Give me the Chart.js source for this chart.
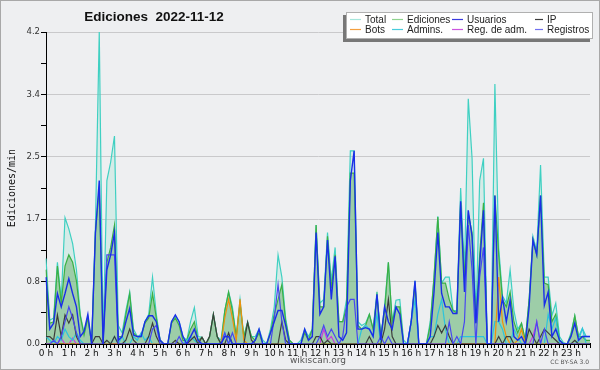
<!DOCTYPE html>
<html>
<head>
<meta charset="utf-8">
<script src="https://cdn.jsdelivr.net/npm/chart.js@4.4.1/dist/chart.umd.min.js"></script>
<style>
  html, body { margin: 0; padding: 0; background: #eeeff1; }
  #wrap { width: 600px; height: 370px; position: relative; }
</style>
</head>
<body>
<div id="wrap"><canvas id="chart" width="600" height="370"></canvas></div>
<script>
// hour tick labels, one slot every 10 minutes
const hourLabels = ['0 h','1 h','2 h','3 h','4 h','5 h','6 h','7 h','8 h','9 h','10 h','11 h',
  '12 h','13 h','14 h','15 h','16 h','17 h','18 h','19 h','20 h','21 h','22 h','23 h'];
const slots = [];
hourLabels.forEach((h, k) => {
  for (let m = 0; m < 60; m += 10) slots.push(k + ':' + String(m).padStart(2, '0'));
});

// edits per minute, 10-minute buckets
const total = [
  1.15,0.32,0.35,1.1,0.6,1.7,1.55,1.35,1.0,0.4,0.15,0.37,
  0,1.6,4.2,0.05,2.2,2.45,2.8,0.25,0.15,0.45,0.7,0.2,
  0.1,0.12,0.3,0.4,0.9,0.4,0.05,0,0,0.3,0.38,0.3,
  0.1,0.05,0.3,0.49,0.1,0.09,0,0.1,0.4,0.1,0.05,0.45,
  0.7,0.5,0.1,0.6,0.1,0.3,0.1,0.1,0.2,0.05,0,0.2,
  0.5,1.2,0.9,0.35,0.05,0,0,0.05,0.2,0.1,0.2,1.6,
  0.55,0.6,1.5,0.85,1.3,0.3,0.3,0.6,2.6,2.6,0.3,0.25,
  0.28,0.4,0.2,0.7,0.1,0.5,1.1,0.3,0.59,0.6,0.05,0,
  0.3,0.85,0,0,0,0.3,0.9,1.72,0.82,0.9,0.9,0.45,
  0.45,2.1,1.0,3.3,2.5,0.3,2.2,2.5,0,0,3.5,1.3,
  0.65,0.55,1.0,0.45,0.2,0.28,0.05,0.6,1.45,1.25,2.41,0.9,
  0.9,0.38,0.55,0.1,0.02,0,0.15,0.38,0.1,0.21,0.1,0.1
];
const ediciones = [
  1.0,0.28,0.3,1.05,0.55,1.05,1.2,1.1,0.85,0.38,0.12,0.35,
  0,1.5,2.1,0.05,1.1,1.3,1.6,0.1,0.1,0.4,0.68,0.15,
  0.1,0.1,0.28,0.35,0.68,0.35,0.05,0,0,0.28,0.35,0.25,
  0.05,0.05,0.2,0.3,0.05,0.09,0,0.1,0.4,0.1,0,0.45,
  0.7,0.45,0.1,0.55,0.1,0.29,0.1,0.05,0.15,0,0,0.15,
  0.4,0.6,0.8,0.3,0.05,0,0,0,0.15,0.05,0.2,1.6,
  0.5,0.5,1.45,0.75,1.2,0.3,0.3,0.5,2.3,2.3,0.25,0.2,
  0.25,0.4,0.2,0.65,0.1,0.45,1.1,0.3,0.5,0.5,0,0,
  0.3,0.8,0,0,0,0.25,0.9,1.71,0.82,0.82,0.6,0.45,
  0.42,1.9,0.9,1.75,1.5,0.28,1.2,1.9,0,0,2.0,1.2,
  0.6,0.5,0.7,0.3,0.15,0.28,0.05,0.6,1.4,1.2,2.0,0.82,
  0.8,0.3,0.4,0.05,0,0,0.12,0.38,0.1,0.1,0.05,0.05
];
const usuarios = [
  0.9,0.2,0.28,0.68,0.5,0.68,0.88,0.68,0.5,0.1,0.17,0.4,
  0,1.5,2.2,0,1.0,1.2,1.5,0.05,0.1,0.3,0.48,0.12,
  0.1,0.1,0.3,0.38,0.38,0.3,0.05,0,0,0.3,0.39,0.3,
  0.1,0,0.1,0.2,0.05,0,0,0,0,0,0,0.1,
  0.1,0,0,0,0,0,0,0.05,0.2,0,0,0.15,
  0.3,0.45,0.45,0.25,0,0,0,0,0.2,0.05,0.1,1.5,
  0.4,0.5,1.4,0.6,1.18,0.1,0.05,0.15,2.2,2.6,0.2,0.2,
  0.22,0.2,0.1,0.67,0.05,0.5,0.3,0.2,0.5,0.4,0,0,
  0.3,0.85,0,0,0,0.1,0.7,1.5,0.68,0.5,0.5,0.41,
  0.41,1.92,0.7,1.8,1.45,0.28,1.06,1.8,0,0,2.0,0.3,
  0.62,0.3,0.59,0.1,0.05,0.1,0,0.5,1.4,1.2,2.0,0.52,
  0.7,0.1,0.2,0.05,0,0,0.1,0.28,0.05,0.1,0.1,0.1
];
const ip = [
  0.1,0.1,0.05,0.39,0.1,0.39,0.28,0.39,0.1,0,0,0,
  0,0.1,0.1,0,0.05,0,0.1,0,0,0.05,0.2,0.05,
  0,0,0,0.1,0.28,0.1,0,0,0,0,0.05,0,
  0,0,0.05,0.1,0,0.09,0,0.1,0.4,0.1,0,0,
  0.15,0,0,0,0,0.29,0.05,0,0,0,0,0,
  0,0,0.3,0.05,0,0,0,0,0,0,0,0.1,
  0.1,0,0.05,0,0,0,0,0,0,0,0,0,
  0,0.1,0,0,0,0.2,0.6,0.1,0,0,0,0,
  0,0,0,0,0,0,0.1,0.25,0.15,0.25,0.1,0,
  0,0,0,0,0,0,0,0,0,0,0,0.1,
  0,0.1,0.1,0,0,0,0,0.2,0.1,0,0.1,0.2,
  0.15,0.1,0.05,0,0,0,0,0.05,0,0,0,0
];
const bots = [
  0,0,0,0,0,0,0,0,0,0,0,0,
  0,0,0,0,0,0,0,0,0,0,0,0,
  0,0,0,0,0,0,0,0,0,0,0,0,
  0,0,0,0,0,0,0,0,0,0,0,0.35,
  0.6,0.35,0.05,0.6,0.05,0,0,0,0,0,0,0,
  0,0,0,0,0,0,0,0,0,0,0,0,
  0,0,0,0,0,0,0,0,0,0,0,0,
  0,0,0,0,0,0,0,0,0,0,0,0,
  0,0,0,0,0,0,0,0,0,0,0,0,
  0,0,0,0,0,0,0,0,0,0,0,0.9,
  0.3,0.1,0,0,0.05,0.2,0,0,0,0,0,0,
  0,0,0,0,0,0,0,0,0,0,0,0
];
const admins = [
  0.1,0.05,0,0.1,0.05,0.2,0.1,0.05,0.15,0.05,0,0,
  0,0,0,0,0,0,0.1,0,0.1,0,0,0.1,
  0.05,0.15,0.05,0.1,0,0,0,0,0,0,0,0,
  0,0.05,0.1,0.05,0,0,0,0,0,0,0,0.15,
  0,0,0,0,0,0,0,0,0,0,0,0,
  0,0,0,0,0,0,0,0,0,0,0,0,
  0,0,0,0,0,0,0,0,0,0,0,0.2,
  0.25,0.2,0.1,0.4,0,0,0,0,0,0,0,0,
  0.3,0.6,0,0,0,0.1,0.1,0.4,0.6,0.2,0,0,
  0,0.1,0.1,0.1,0.1,0.1,0.1,0.1,0,0,0.3,0.3,
  0.2,0,0,0.2,0.1,0,0,0,0,0,0,0,
  0.4,0.2,0.35,0,0,0,0,0,0.05,0.21,0,0
];
const regAdm = [
  0,0,0,0,0.08,0,0,0.08,0,0,0,0,
  0,0,0,0,0,0,0,0,0,0,0,0,
  0,0,0,0,0,0,0,0,0,0,0,0,
  0,0,0,0,0,0,0,0,0,0,0,0,
  0,0,0,0,0,0,0,0,0,0,0,0,
  0,0,0,0,0,0,0,0,0,0,0,0,
  0,0.2,0.05,0.1,0,0,0,0,0,0,0,0,
  0,0,0,0,0,0,0,0,0,0,0,0,
  0,0,0,0,0,0,0,0,0,0,0,0,
  0,0,0,0,0,0,0,0,0,0,0,0,
  0,0,0,0,0,0,0,0,0.1,0.3,0,0,
  0,0,0,0,0,0,0,0,0,0,0,0
];
const registros = [
  0,0,0.05,0,0.1,0.3,0.5,0.35,0.15,0,0,0,
  0,0,0,0,1.2,1.2,1.2,0,0,0,0,0,
  0,0,0,0,0.2,0.25,0,0,0,0,0,0.1,
  0,0,0,0,0,0,0,0,0,0,0,0.15,
  0,0.15,0,0,0,0,0,0,0,0,0,0,
  0.35,0.8,0.3,0,0,0,0,0,0,0,0,0,
  0.1,0.25,0.1,0.2,0.1,0,0.1,0.5,0.6,0.6,0,0,
  0,0,0,0,0.1,0,0.1,0,0,0,0,0,
  0,0,0,0,0,0,0,0,0,0,0.3,0,
  0.1,0,0.3,1.6,1.0,0,0.9,1.3,0,0,0,0,
  0,0,0,0,0,0,0,0,0,0.3,0,0.2,
  0,0,0,0,0,0,0,0,0,0,0,0
];

const yMax = 4.2;
const yStep = 0.42;

function line(label, data, color, order, extra) {
  return Object.assign({
    label: label, data: data, borderColor: color, backgroundColor: color,
    borderWidth: 1.2, pointRadius: 0, tension: 0, fill: false, order: order
  }, extra || {});
}

const datasets = [
  line('Total', total, '#3fd0c2', 10, { fill: 'origin', backgroundColor: 'rgba(150,225,205,0.28)', legendColor: '#a6e6dc' }),
  line('Ediciones', ediciones, '#3cb043', 9, { fill: 'origin', backgroundColor: 'rgba(80,165,80,0.42)', legendColor: '#8fd38f' }),
  line('Usuarios', usuarios, '#1a2ee8', 1, { borderWidth: 1.4, legendColor: '#3a3ae0' }),
  line('IP', ip, '#3c3c3c', 3),
  line('Bots', bots, '#f0900c', 4, { legendColor: '#f4a040' }),
  line('Admins.', admins, '#2cc4dc', 5, { legendColor: '#48ccdc' }),
  line('Reg. de adm.', regAdm, '#c83ae0', 6, { legendColor: '#cc55e0' }),
  line('Registros', registros, '#4848f0', 2, { legendColor: '#7070f0' })
];

const decor = {
  id: 'decor',
  beforeDraw(chart) {
    const c = chart.ctx;
    c.save();
    c.fillStyle = '#eeeff1';
    c.fillRect(0, 0, chart.width, chart.height);
    c.restore();
  },
  afterDraw(chart) {
    const c = chart.ctx;
    const area = chart.chartArea;
    c.save();
    // frame
    c.strokeStyle = '#a8a8a8';
    c.lineWidth = 1;
    c.strokeRect(0.5, 0.5, chart.width - 1, chart.height - 1);
    // title
    c.fillStyle = '#111';
    c.font = 'bold 13.5px "Liberation Sans"';
    c.textAlign = 'center';
    c.textBaseline = 'middle';
    c.fillText('Ediciones  2022-11-12', 154, 17);
    // y title
    c.save();
    c.translate(12, (area.top + area.bottom) / 2);
    c.rotate(-Math.PI / 2);
    c.font = '10px "DejaVu Sans Mono"';
    c.fillStyle = '#111';
    c.fillText('Ediciones/min', 0, 0);
    c.restore();
    // footer
    c.font = '9px "DejaVu Sans"';
    c.fillStyle = '#555';
    c.fillText('wikiscan.org', (area.left + area.right) / 2, 361);
    c.font = '6px "DejaVu Sans"';
    c.textAlign = 'right';
    c.fillText('CC BY-SA 3.0', 589, 362);
    // legend box with shadow
    const bx = 346, by = 12, bw = 247, bh = 27;
    c.fillStyle = '#777';
    c.fillRect(bx - 3, by + 3, bw, bh);
    c.fillStyle = '#ffffff';
    c.fillRect(bx, by, bw, bh);
    c.strokeStyle = '#b0b0b0';
    c.strokeRect(bx + 0.5, by + 0.5, bw - 1, bh - 1);
    const cols = [350, 392, 452, 535];
    const rows = [19, 29];
    c.font = '10px "Liberation Sans"';
    c.textAlign = 'left';
    chart.data.datasets.forEach((ds, k) => {
      const x = cols[k % 4], y = rows[Math.floor(k / 4)];
      const w = k % 4 === 3 ? 8 : 11;
      c.strokeStyle = ds.legendColor || ds.borderColor;
      c.lineWidth = 1.2;
      c.beginPath();
      c.moveTo(x, y + 0.5);
      c.lineTo(x + w, y + 0.5);
      c.stroke();
      c.fillStyle = '#222';
      c.fillText(ds.label, x + w + 4, y + 1);
    });
    c.restore();
  }
};

new Chart(document.getElementById('chart'), {
  type: 'line',
  data: { labels: slots, datasets: datasets },
  plugins: [decor],
  options: {
    responsive: false,
    animation: false,
    layout: { padding: { left: 0, top: 32, right: 10, bottom: 0 } },
    plugins: { legend: { display: false }, tooltip: { enabled: false } },
    scales: {
      x: {
        type: 'category',
        offset: false,
        afterFit(scale) { scale.height = 26; },
        border: { color: '#000', width: 2 },
        grid: { drawOnChartArea: false, drawTicks: true, tickLength: 4, tickColor: '#000', tickWidth: 1 },
        ticks: {
          autoSkip: false, maxRotation: 0, minRotation: 0, padding: 0,
          color: '#111', font: { family: 'DejaVu Sans', size: 9 },
          callback(v, i) { return i % 6 === 0 ? hourLabels[i / 6] : ''; }
        }
      },
      y: {
        min: 0, max: yMax,
        afterFit(scale) { scale.width = 46; },
        border: { color: '#000', width: 1 },
        grid: {
          color(ctx) { return ctx.index % 2 === 0 ? '#c9c9cb' : 'rgba(0,0,0,0)'; },
          tickColor: '#000', tickLength: 5, lineWidth: 1
        },
        ticks: {
          stepSize: yStep, padding: 1, color: '#333',
          font: { family: 'DejaVu Sans', size: 8.5 },
          callback(v, i) { return i % 2 === 0 ? v.toFixed(1) : ''; }
        }
      }
    }
  }
});
</script>
</body>
</html>
